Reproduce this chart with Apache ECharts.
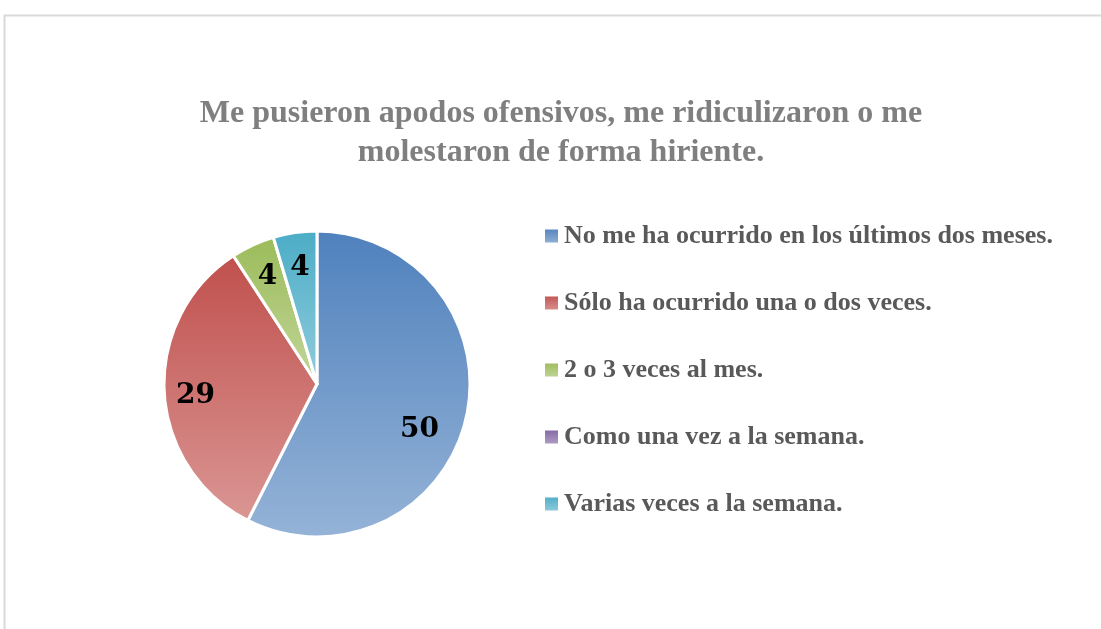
<!DOCTYPE html>
<html>
<head>
<meta charset="utf-8">
<script src="https://cdn.jsdelivr.net/npm/echarts@6/dist/echarts.min.js"></script>
<style>
  html, body { margin: 0; padding: 0; background: #fff; }
  #chart { width: 1101px; height: 629px; }
</style>
</head>
<body>
<div id="chart"></div>
<script>
// Survey answers and counts.
const titleText = 'Me pusieron apodos ofensivos, me ridiculizaron o me\nmolestaron de forma hiriente.';
const categories = [
  'No me ha ocurrido en los últimos dos meses.',
  'Sólo ha ocurrido una o dos veces.',
  '2 o 3 veces al mes.',
  'Como una vez a la semana.',
  'Varias veces a la semana.'
];
const counts = [50, 29, 4, 0, 4];
// Office-style gradient pairs (top, bottom) for each slice.
const topColors = ['#4F81BD', '#C0504D', '#9BBB59', '#8064A2', '#4BACC6'];
const bottomColors = ['#95B3D7', '#DA9694', '#C3D69B', '#B3A2C7', '#93CDDD'];

const grad = (i) => new echarts.graphic.LinearGradient(0, 0, 0, 1, [
  { offset: 0, color: topColors[i] },
  { offset: 1, color: bottomColors[i] }
]);

const CX = 317, CY = 384, R = 153;
const serif = '"Liberation Serif", "Times New Roman", serif';
// Excel's "best fit" puts the two big labels a bit off the mid-angle; nudge them.
const nudge = [[-12, 18], [-4, 5], [0, 0], [0, 0], [0, 0]];

const chart = echarts.init(document.getElementById('chart'), null, { renderer: 'canvas' });
chart.setOption({
  animation: false,
  backgroundColor: '#fff',
  title: {
    text: titleText,
    left: 561, top: 94, textAlign: 'center', padding: 0,
    textStyle: { fontFamily: serif, fontSize: 32, fontWeight: 'bold', color: '#7F7F7F', lineHeight: 39 }
  },
  legend: {
    orient: 'vertical', left: 543, top: 221, padding: 0,
    itemWidth: 15, itemHeight: 15, itemGap: 37, icon: 'rect',
    data: categories,
    textStyle: { fontFamily: serif, fontSize: 26, fontWeight: 'bold', color: '#595959', lineHeight: 30 }
  },
  graphic: [{
    type: 'rect', silent: true, z: -1,
    shape: { x: 4.5, y: 15.5, width: 1200, height: 700 },
    style: { fill: 'none', stroke: '#D9D9D9', lineWidth: 2 }
  }],
  series: [
    {
      type: 'pie', center: [CX, CY], radius: [0, R],
      startAngle: 90, clockwise: true, silent: true,
      label: { show: false }, labelLine: { show: false },
      itemStyle: { borderColor: '#fff', borderWidth: 3 },
      data: categories.map((name, i) => ({ name, value: counts[i], itemStyle: { color: grad(i) } }))
    },
    {
      // transparent ring only used to place the value labels further out
      type: 'pie', center: [CX, CY], radius: [R * 0.5, R],
      startAngle: 90, clockwise: true, silent: true, legendHoverLink: false,
      itemStyle: { color: 'rgba(0,0,0,0)', borderWidth: 0 },
      label: {
        show: true, position: 'inside',
        formatter: (p) => (p.value ? String(p.value) : ''),
        fontFamily: '"DejaVu Serif", serif', fontSize: 28, fontWeight: 'bold', color: '#000'
      },
      labelLine: { show: false },
      data: categories.map((name, i) => ({
        name: name + ' ', value: counts[i], label: { offset: nudge[i] }
      }))
    }
  ]
});
</script>
</body>
</html>
